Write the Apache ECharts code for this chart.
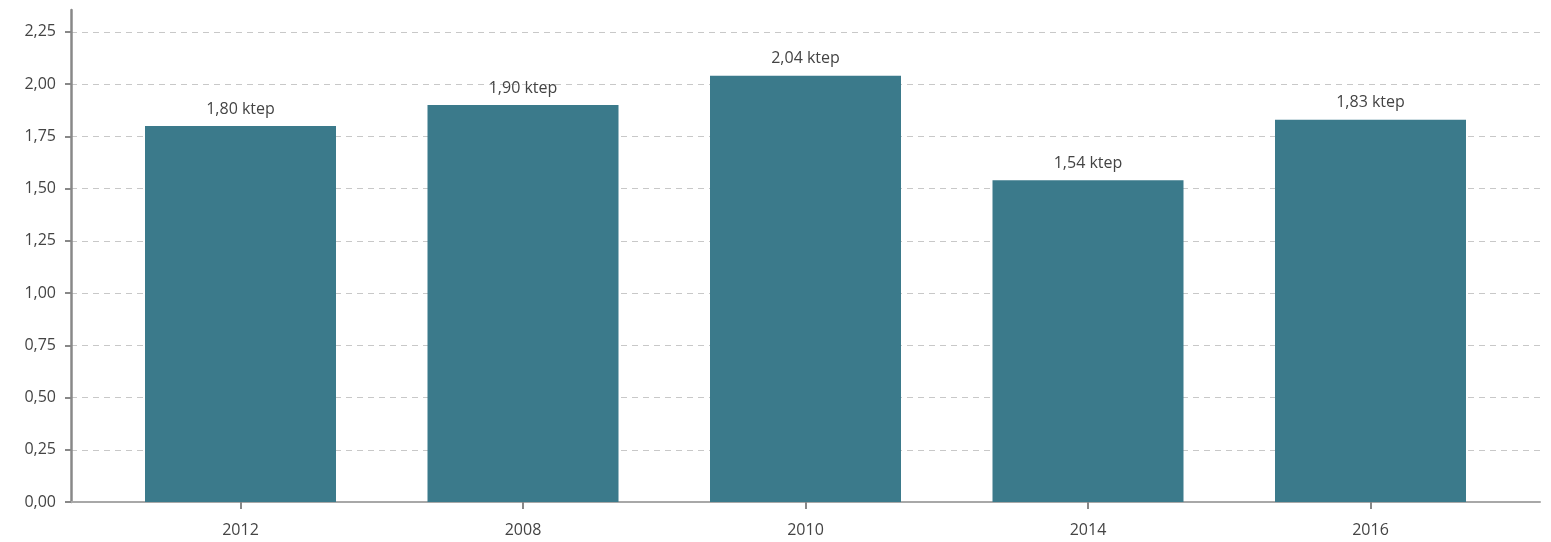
<!DOCTYPE html>
<html>
<head>
<meta charset="utf-8">
<script src="https://cdn.jsdelivr.net/npm/echarts@6/dist/echarts.min.js"></script>
<style>
html,body{margin:0;padding:0;background:#fff;}
#chart{width:1551px;height:542px;}
</style>
</head>
<body>
<div id="chart"></div>
<script>
const categories = ['2012', '2008', '2010', '2014', '2016'];
const values = [1.80, 1.90, 2.04, 1.54, 1.83];
const yTicks = [0, 0.25, 0.5, 0.75, 1, 1.25, 1.5, 1.75, 2, 2.25];
const unit = 'ktep';

const fmt = v => v.toFixed(2).replace('.', ',');
const catIdx = categories.map((c, i) => i);

const chart = echarts.init(document.getElementById('chart'), null, {renderer: 'canvas'});
chart.setOption({
  animation: false,
  backgroundColor: '#fff',
  grid: {left: 71, right: 11, top: 10, bottom: 40, containLabel: false},
  xAxis: {
    type: 'value',
    min: -0.6,
    max: 4.6,
    axisLine: {show: true, onZero: false, lineStyle: {color: '#a8a8a8', width: 2}},
    axisTick: {show: true, customValues: catIdx, length: 7, lineStyle: {color: '#888', width: 2}},
    axisLabel: {
      customValues: catIdx,
      formatter: v => categories[Math.round(v)] || '',
      color: '#444', fontSize: 16, fontFamily: 'Open Sans', margin: 20
    },
    splitLine: {show: false}
  },
  yAxis: {
    type: 'value',
    min: 0,
    max: 2.355,
    interval: 0.25,
    axisLine: {show: true, onZero: false, lineStyle: {color: '#888', width: 2.5}},
    axisTick: {show: true, customValues: yTicks, length: 6, lineStyle: {color: '#888', width: 2}},
    axisLabel: {
      customValues: yTicks,
      formatter: v => fmt(v),
      color: '#444', fontSize: 16, fontFamily: 'Open Sans', margin: 15
    },
    splitLine: {show: true, lineStyle: {color: '#c8c8c8', type: [6, 5], width: 1}}
  },
  series: [{
    type: 'bar',
    data: values.map((v, i) => [i, v]),
    barWidth: 191,
    itemStyle: {color: '#3b7a8b'},
    label: {
      show: true, position: 'top', distance: 9,
      formatter: p => fmt(p.value[1]) + ' ' + unit,
      color: '#444', fontSize: 16, fontFamily: 'Open Sans'
    }
  }]
});
</script>
</body>
</html>
